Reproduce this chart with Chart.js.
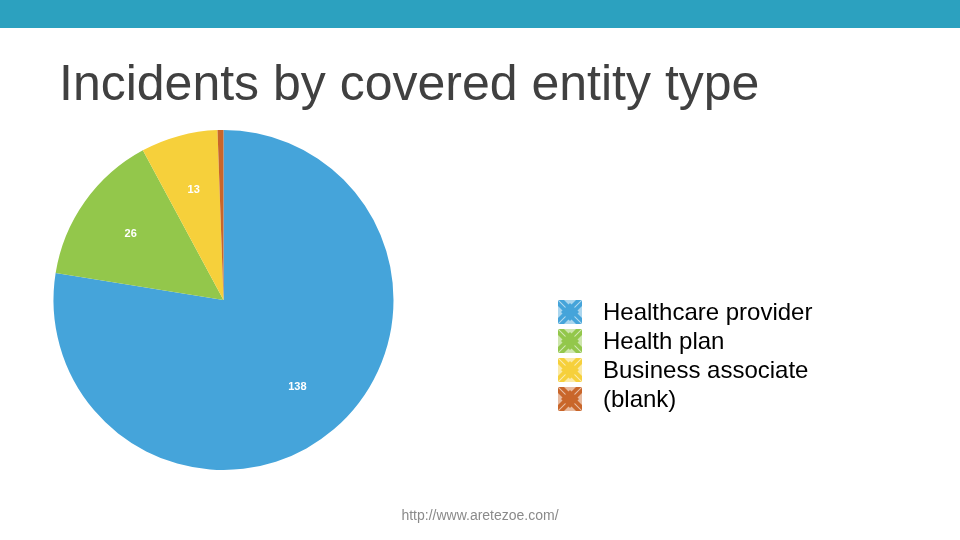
<!DOCTYPE html>
<html>
<head>
<meta charset="utf-8">
<script src="https://cdn.jsdelivr.net/npm/chart.js@4/dist/chart.umd.min.js"></script>
<style>
html, body { margin: 0; padding: 0; background: #fff; }
#slide { position: relative; width: 960px; height: 540px; overflow: hidden; font-family: "Liberation Sans", Arial, sans-serif; }
#topbar { position: absolute; left: 0; top: 0; width: 960px; height: 28px; background: #2ca1bf; }
#title { position: absolute; left: 59px; top: 58px; font-size: 50px; line-height: 50px; color: #404040; white-space: nowrap; }
#chartBox { position: absolute; left: 0; top: 0; width: 960px; height: 540px; }
#legend { position: absolute; left: 557px; top: 297px; }
.row { height: 29px; display: flex; align-items: center; }
.row canvas { width: 26px; height: 26px; margin-right: 20px; }
.row span { font-size: 24px; color: #000; line-height: 29px; }
#source { position: absolute; left: 0; width: 960px; top: 507px; text-align: center; font-size: 14px; color: #8a8a8a; }
</style>
</head>
<body>
<div id="slide">
<div id="topbar"></div>
<div id="title">Incidents by covered entity type</div>
<div id="chartBox"><canvas id="pieChart"></canvas></div>
<div id="legend"></div>
<div id="source">http://www.aretezoe.com/</div>
</div>
<script>
// entity types and incident counts
const entityTypes = ['Healthcare provider', 'Health plan', 'Business associate', '(blank)'];
const incidentCounts = [138, 26, 13, 1];
const sliceColors = ['#45a4da', '#93c74b', '#f6d03b', '#c9662a'];

// white value labels inside the slices
const sliceLabels = {
id: 'sliceLabels',
afterDatasetsDraw(chart) {
const ctx = chart.ctx;
const meta = chart.getDatasetMeta(0);
ctx.save();
ctx.fillStyle = '#ffffff';
ctx.font = 'bold 11px "Liberation Sans", Arial, sans-serif';
ctx.textAlign = 'center';
ctx.textBaseline = 'middle';
meta.data.forEach((arc, i) => {
const p = arc.getProps(['x', 'y', 'startAngle', 'endAngle', 'outerRadius'], true);
if (p.endAngle - p.startAngle < 0.15) return; // too thin for a label
const mid = (p.startAngle + p.endAngle) / 2;
const r = p.outerRadius * 0.67;
ctx.fillText(String(incidentCounts[i]), p.x + Math.cos(mid) * r, p.y + Math.sin(mid) * r);
});
ctx.restore();
}
};

new Chart(document.getElementById('pieChart'), {
type: 'pie',
data: {
labels: entityTypes,
datasets: [{
data: incidentCounts,
backgroundColor: sliceColors,
borderWidth: 0
}]
},
options: {
responsive: true,
maintainAspectRatio: false,
animation: false,
layout: {
padding: { left: 53, top: 130, right: 566, bottom: 70 }
},
plugins: {
legend: { display: false },
tooltip: { enabled: false }
}
},
plugins: [sliceLabels]
});

// legend icon: square with inward arrows, like the original slide marker
function drawIcon(canvas, color) {
const s = 26;
canvas.width = s * 2;
canvas.height = s * 2;
const c = canvas.getContext('2d');
c.scale(2, 2);
c.fillStyle = color;
c.fillRect(1, 1, 24, 24);
c.fillStyle = 'rgba(255,255,255,0.55)';
const m = 13;
// triangles pointing inward from each side
c.beginPath(); c.moveTo(7, 1); c.lineTo(19, 1); c.lineTo(m, 7); c.closePath(); c.fill();
c.beginPath(); c.moveTo(7, 25); c.lineTo(19, 25); c.lineTo(m, 19); c.closePath(); c.fill();
c.beginPath(); c.moveTo(1, 7); c.lineTo(1, 19); c.lineTo(7, m); c.closePath(); c.fill();
c.beginPath(); c.moveTo(25, 7); c.lineTo(25, 19); c.lineTo(19, m); c.closePath(); c.fill();
c.strokeStyle = 'rgba(255,255,255,0.6)';
c.lineWidth = 1;
c.beginPath(); c.moveTo(1, 1); c.lineTo(25, 25); c.moveTo(25, 1); c.lineTo(1, 25); c.stroke();
// center diamond
c.fillStyle = color;
c.beginPath(); c.moveTo(m, 4); c.lineTo(22, m); c.lineTo(m, 22); c.lineTo(4, m); c.closePath(); c.fill();
}

const legend = document.getElementById('legend');
entityTypes.forEach((name, i) => {
const row = document.createElement('div');
row.className = 'row';
const icon = document.createElement('canvas');
drawIcon(icon, sliceColors[i]);
const txt = document.createElement('span');
txt.textContent = name;
row.appendChild(icon);
row.appendChild(txt);
legend.appendChild(row);
});
</script>
</body>
</html>
